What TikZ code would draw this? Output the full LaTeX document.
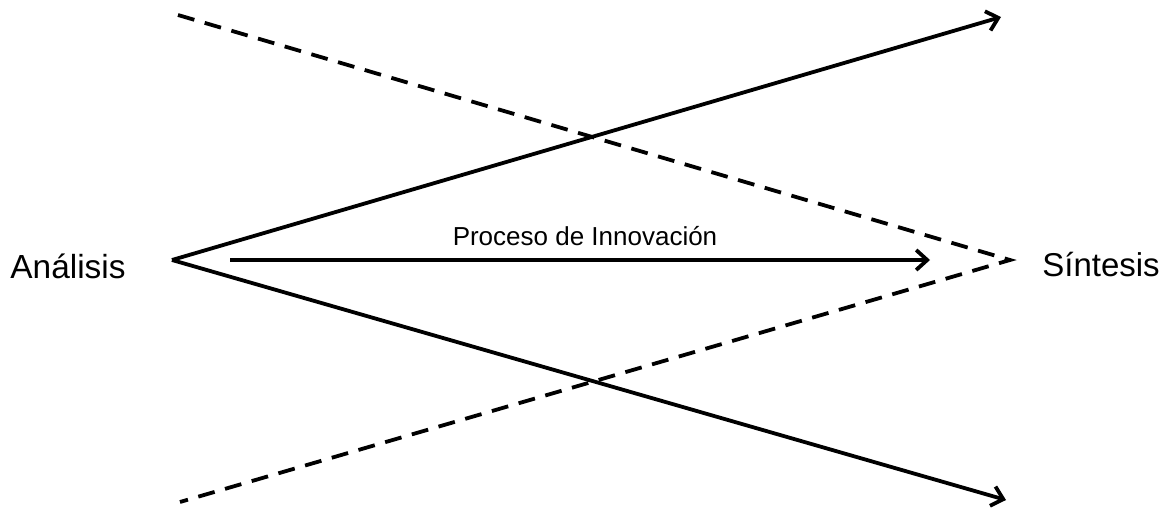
\documentclass[tikz,border=0pt]{standalone}
\usepackage{fontspec}
\setmainfont{Liberation Sans}
\usetikzlibrary{arrows.meta}
\begin{document}
\begin{tikzpicture}[x=0.5pt,y=-0.5pt,line width=1.9pt,
        flecha/.style={-{Straight Barb[length=5.5pt,width=10pt,line width=1.9pt]}},
        rayas/.style={dash pattern=on 8.5pt off 5.4pt,line join=miter}]
                \useasboundingbox (0,0) rectangle (1168,509);

                \node (analisis) at (68,266) {\fontsize{16.7}{20}\selectfont Análisis};
                \node (sintesis) at (1101,265) {\fontsize{16.5}{20}\selectfont Síntesis};
                \node (proceso) at (585,236) {\fontsize{13}{16}\selectfont Proceso de Innovación};

                \coordinate (a) at (172,260);
                \coordinate (s) at (1010,260);
                \coordinate (b1) at (1001,17);
                \coordinate (b2) at (1006,500);
                \coordinate (c1) at (178,15);
                \coordinate (c2) at (180,502);
                \coordinate (m1) at (230,260);
                \coordinate (m2) at (930,260);

                \draw[flecha] (a) -- (b1);
                \draw[flecha] (a) -- (b2);
                \draw[flecha] (m1) -- (m2);
                \draw[rayas] (c1) -- (s) -- (c2);
            \end{tikzpicture}
\end{document}
